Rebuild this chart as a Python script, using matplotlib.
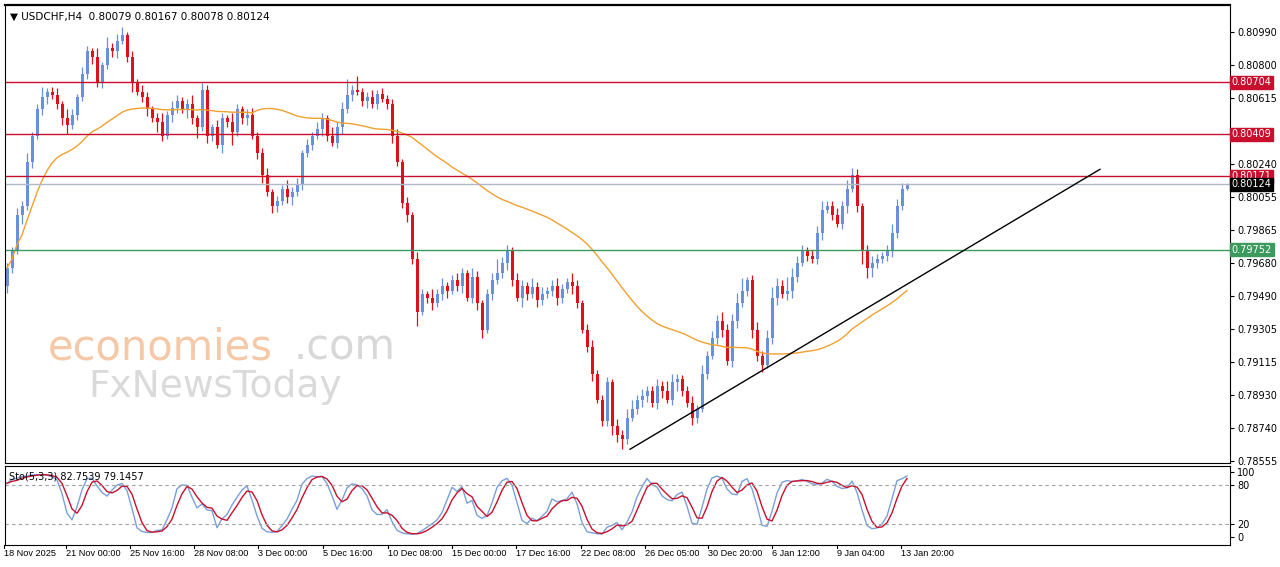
import matplotlib
matplotlib.use("Agg")
import matplotlib.pyplot as plt
import numpy as np
import pandas as pd

closes = [.7965,.7975,.7995,.8000,.8025,.8040,.8055,.8062,.8065,.8063,
          .8058,.8050,.8046,.8052,.8062,.8075,.8088,.8085,.8070,.8080,
          .8090,.8088,.8094,.8097,.8085,.8070,.8065,.8062,.8055,.8050,
          .8048,.8040,.8052,.8056,.8060,.8055,.8058,.8050,.8045,.8066,
          .8040,.8045,.8035,.8050,.8048,.8042,.8055,.8050,.8052,.8040,
          .8030,.8018,.8008,.8000,.8003,.8010,.8005,.8008,.8012,.8030,
          .8035,.8040,.8044,.8050,.8040,.8036,.8045,.8055,.8063,.8066,
          .8065,.8060,.8062,.8058,.8064,.8061,.8058,.8040,.8025,.8002,
          .7995,.7970,.7940,.7950,.7948,.7945,.7950,.7955,.7952,.7958,
          .7955,.7962,.7948,.7960,.7945,.7930,.7950,.7958,.7962,.7968,
          .7975,.7958,.7948,.7955,.7950,.7954,.7947,.7950,.7952,.7955,
          .7948,.7953,.7957,.7955,.7945,.7930,.7920,.7905,.7890,.7878,
          .7900,.7875,.7870,.7868,.7880,.7885,.7890,.7892,.7895,.7888,
          .7898,.7895,.7890,.7900,.7902,.7895,.7888,.7880,.7885,.7905,
          .7915,.7925,.7935,.7930,.7912,.7935,.7945,.7952,.7958,.7930,
          .7915,.7910,.7925,.7948,.7955,.7950,.7952,.7960,.7968,.7975,
          .7972,.7970,.7985,.7998,.8000,.7995,.7990,.8000,.8010,.8018,
          .8000,.7975,.7965,.7968,.7970,.7972,.7975,.7985,.8000,.8010,.80124]
first_open = .7955
# wick sizes in pips (0.0001)
up_wick = [3,2,4,3,5,2,3,6,2,3, 4,2,5,3,2,4,3,2,5,2, 6,3,4,5,2,3,2,4,3,2,
           3,5,2,4,3,2,3,5,2,4, 3,2,4,3,2,5,3,2,3,4, 2,3,4,2,3,2,5,3,4,2,
           3,2,4,3,2,5,3,4,9,3, 8,2,3,4,2,3,2,3,4,2, 3,2,4,3,2,5,3,4,2,3,
           4,3,2,5,3,2,3,4,8,3, 3,2,4,3,2,5,3,4,2,3, 4,3,2,5,3,2,3,4,2,3,
           3,2,4,3,5,5,3,4,3,3, 4,3,6,5,3,2,3,4,2,5, 3,4,3,5,3,4,6,7,2,3,
           4,3,5,6,4,3,8,5,4,3, 2,3,4,5,3,3,4,3,5,4, 3,2,3,4,3,2,3,5,4,3,1]
dn_wick = [4,3,2,5,2,3,2,3,4,2, 3,4,5,2,3,2,3,4,2,3, 2,3,4,2,3,5,2,3,4,2,
           6,3,2,4,3,2,5,3,6,2, 4,3,2,5,3,7,2,3,4,2, 3,5,2,4,3,2,3,4,2,3,
           2,3,2,4,3,2,3,4,2,3, 2,3,4,2,3,2,3,4,2,3, 4,3,8,2,3,4,2,3,4,2,
           3,4,2,3,4,5,2,3,2,3, 4,3,2,5,3,2,4,3,2,3, 4,3,2,5,3,2,3,4,2,3,
           3,5,4,6,3,2,3,4,3,2, 3,4,2,3,5,3,2,4,3,2, 3,2,3,4,2,3,4,2,3,5,
           3,4,2,3,4,2,3,4,3,2, 3,2,3,4,2,3,2,3,4,2, 3,8,6,5,3,2,3,4,3,2,1]

hlines_red = [0.80704, 0.80409, 0.80171]
hline_green = 0.79752
last_price = 0.80124
price_ticks = [0.80990, 0.80800, 0.80615, 0.80240, 0.80055, 0.79865, 0.79680,
               0.79490, 0.79305, 0.79115, 0.78930, 0.78740, 0.78555]
date_labels = ["18 Nov 2025", "21 Nov 00:00", "25 Nov 16:00", "28 Nov 08:00",
               "3 Dec 00:00", "5 Dec 16:00", "10 Dec 08:00", "15 Dec 00:00",
               "17 Dec 16:00", "22 Dec 08:00", "26 Dec 05:00", "30 Dec 20:00",
               "6 Jan 12:00", "9 Jan 04:00", "13 Jan 20:00"]
date_px = [4, 66, 130, 194, 258, 323, 388, 452, 516, 581, 645, 708, 772, 837, 901]
trend_start = (124.6, 0.7862)
trend_end = (218.6, 0.8021)

c = np.array(closes)
o = np.concatenate([[first_open], c[:-1]])
h = np.maximum(o, c) + np.array(up_wick) * 1e-4
l = np.minimum(o, c) - np.array(dn_wick) * 1e-4
n = len(c)
x = np.arange(n)

def px2x(p):
    return (p - 7) / 5.0

W, H = 1280, 567
fig = plt.figure(figsize=(W/100, H/100), dpi=100)
fig.patch.set_facecolor("white")
ax = fig.add_axes([5/W, 1-463/H, 1225/W, 458/H])
ax2 = fig.add_axes([5/W, 1-545/H, 1225/W, 79/H])
xl = (px2x(5), px2x(1230))
ax.set_xlim(*xl); ax2.set_xlim(*xl)
ax.set_ylim(0.78542, 0.81143)

bull, bear = "#6A8FDB", "#E0101A"
for i in range(n):
    col = bull if c[i] >= o[i] else bear
    ax.vlines(x[i], l[i], h[i], color=col, lw=0.9)
    ax.bar(x[i], max(abs(c[i]-o[i]), 0.00003), bottom=min(o[i], c[i]), width=0.6, color=col, lw=0)

ma = pd.Series(c).rolling(50, min_periods=1).mean()
ax.plot(x, ma, color="#F0A030", lw=1)

for v in hlines_red:
    ax.axhline(v, color="#C8102E", lw=1)
ax.axhline(hline_green, color="#3C9A5F", lw=1)
ax.axhline(last_price, color="#B0B8C8", lw=1)
ax.plot([trend_start[0], trend_end[0]], [trend_start[1], trend_end[1]], color="black", lw=1)

for a in (ax, ax2):
    a.yaxis.tick_right()
    a.tick_params(axis="y", labelsize=7, length=3, pad=2)
    a.set_xticks([])
    for s in a.spines.values():
        s.set_color("black")
ax.spines["top"].set_linewidth(1.6)
ax.set_yticks(price_ticks)
ax.set_yticklabels([f"{v:.5f}" for v in price_ticks])

def box(a, v, fc, tc="white"):
    a.text(1.0015, v, f"{v:.5f}", transform=a.get_yaxis_transform(), fontsize=7,
           color=tc, va="center", ha="left",
           bbox=dict(boxstyle="square,pad=0.15", fc=fc, ec=fc))
for v in hlines_red:
    box(ax, v, "#C8102E")
box(ax, hline_green, "#3C9A5F")
box(ax, last_price, "black")

ax.text(0.004, 0.985, "\u25BC USDCHF,H4  0.80079 0.80167 0.80078 0.80124",
        transform=ax.transAxes, fontsize=7.5, va="top", ha="left")

# watermark
fig.text(48/W, 1-347/H, "economies", fontsize=30, color="#F5C8A8", va="center", ha="left")
fig.text(293/W, 1-347/H, ".com", fontsize=30, color="#D8D8D8", va="center", ha="left")
fig.text(88/W, 1-387/H, "FxNewsToday", fontsize=27, color="#DADADA", va="center", ha="left")

# stochastic 5,3,3
hh = pd.Series(h).rolling(5, min_periods=1).max()
ll = pd.Series(l).rolling(5, min_periods=1).min()
num = (pd.Series(c) - ll).rolling(3, min_periods=1).sum()
den = (hh - ll).rolling(3, min_periods=1).sum()
k = 100 * num / den
d = k.rolling(3, min_periods=1).mean()
ax2.plot(x, k, color="#7AA0D8", lw=1)
ax2.plot(x, d, color="#C8102E", lw=1)
ax2.set_ylim(-12.3, 109)
for lv in (80, 20):
    ax2.axhline(lv, color="#A0A0A0", lw=0.8, ls=(0, (3, 3)))
ax2.set_yticks([100, 80, 20, 0])
ax2.text(0.003, 0.93, "Sto(5,3,3) 82.7539 79.1457", transform=ax2.transAxes,
         fontsize=7, va="top", ha="left")

for lab, p in zip(date_labels, date_px):
    fig.text(p/W, 1-553/H, lab, fontsize=6.6, family="Liberation Sans", va="center", ha="left")
    fig.lines.append(plt.Line2D([p/W, p/W], [1-545/H, 1-548/H], color="black", lw=0.8, transform=fig.transFigure))

fig.savefig("out.png", dpi=100)
